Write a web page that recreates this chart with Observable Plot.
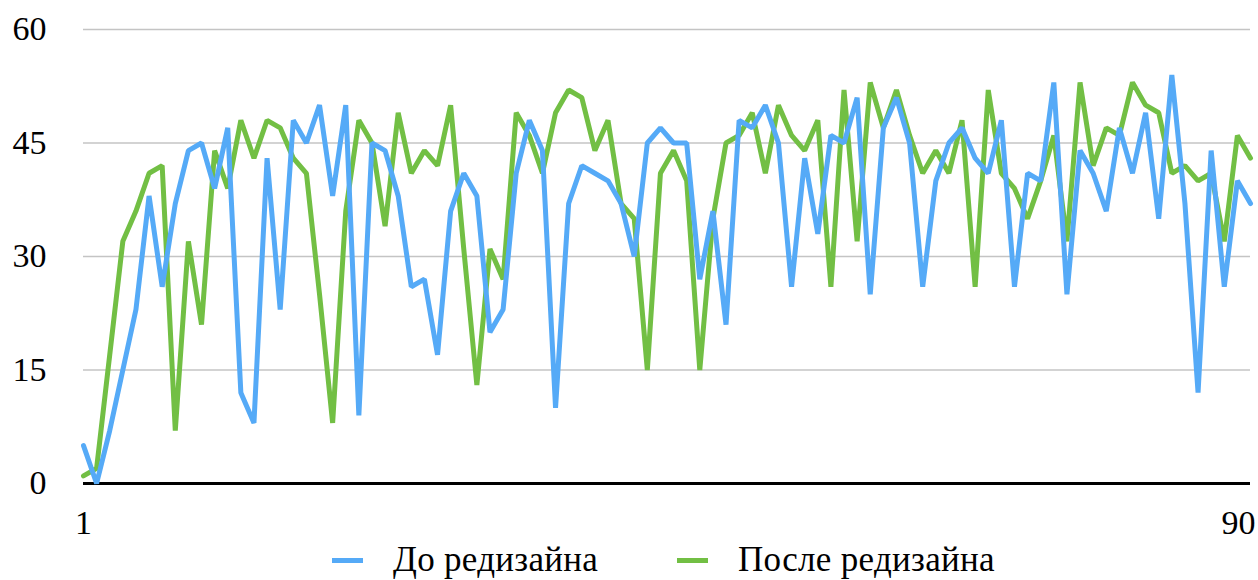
<!DOCTYPE html>
<html><head><meta charset="utf-8">
<script src="https://cdn.jsdelivr.net/npm/d3@7"></script>
<script src="https://cdn.jsdelivr.net/npm/@observablehq/plot@0.6"></script>
<style>
body{margin:0;background:#fff;font-family:"Liberation Serif","DejaVu Serif","Times New Roman",Times,serif;}
#wrap{position:relative;width:1258px;height:580px;overflow:hidden;}
#legend{position:absolute;left:0;top:540px;width:1258px;height:40px;font-size:35px;color:#000;font-family:"Liberation Serif","DejaVu Serif","Times New Roman",Times,serif;}
.item{position:absolute;top:0;height:40px;line-height:40px;display:flex;align-items:center;white-space:nowrap;}
.sw{display:inline-block;width:31px;height:5px;margin-right:30px;}
.tx{letter-spacing:0.3px;}
svg text{font-family:"Liberation Serif","DejaVu Serif","Times New Roman",Times,serif !important;}
</style></head>
<body><div id="wrap"><div id="chart"></div><div id="legend"></div></div>
<script>
const seriesNames = ["До редизайна", "После редизайна"];
const seriesColors = ["#55aaf7", "#72bf44"];
const xTicks = [1, 90];
const yTicks = [0, 15, 30, 45, 60];
const before = [5,0,7,15,23,38,26,37,44,45,39,47,12,8,43,23,48,45,50,38,
  50,9,45,44,38,26,27,17,36,41,38,20,23,41,48,44,10,37,42,41,
  40,37,30,45,47,45,45,27,36,21,48,47,50,45,26,43,33,46,45,51,
  25,47,51,45,26,40,45,47,43,41,48,26,41,40,53,25,44,41,36,47,
  41,49,35,54,37,12,44,26,40,37];
const after = [1,2,17,32,36,41,42,7,32,21,44,39,48,43,48,47,43,41,25,8,
  36,48,45,34,49,41,44,42,50,31,13,31,27,49,46,41,49,52,51,44,
  48,37,35,15,41,44,40,15,35,45,46,49,41,50,46,44,48,26,52,32,
  53,47,52,46,41,44,41,48,26,52,41,39,35,40,46,32,53,42,47,46,
  53,50,49,41,42,40,41,32,46,43];

const rows = [];
[before, after].forEach((arr, k) => {
  arr.forEach((v, i) => rows.push({x: i + 1, y: v, s: seriesNames[k]}));
});

const serif = "'Liberation Serif','DejaVu Serif','Times New Roman',Times,serif";
const chart = Plot.plot({
  width: 1258,
  height: 540,
  marginTop: 29,
  marginBottom: 57,
  marginLeft: 83,
  marginRight: 8,
  style: {fontFamily: serif, fontSize: "34px", color: "#000", background: "#fff"},
  x: {domain: [1, 90], label: null},
  y: {domain: [0, 60], label: null},
  marks: [
    Plot.ruleY([15, 30, 45, 60], {stroke: "#c4c4c4", strokeWidth: 1.3}),
    Plot.ruleY([0], {stroke: "#000", strokeWidth: 3}),
    Plot.line(rows.filter(d => d.s === seriesNames[1]), {x: "x", y: "y", stroke: seriesColors[1], strokeWidth: 5, strokeLinejoin: "miter"}),
    Plot.line(rows.filter(d => d.s === seriesNames[0]), {x: "x", y: "y", stroke: seriesColors[0], strokeWidth: 5, strokeLinejoin: "miter"}),
    Plot.axisY(yTicks, {tickSize: 0, tickPadding: 37, fontSize: 34, fontFamily: serif, label: null}),
    Plot.axisX([xTicks[0]], {tickSize: 0, tickPadding: 26, fontSize: 34, fontFamily: serif, label: null}),
    Plot.axisX([xTicks[1]], {tickSize: 0, tickPadding: 26, fontSize: 34, fontFamily: serif, textAnchor: "end", dx: 5, label: null})
  ]
});
document.getElementById("chart").appendChild(chart);

const legend = document.getElementById("legend");
const lefts = [332, 677];
seriesNames.forEach((n, i) => {
  const it = document.createElement("div");
  it.className = "item";
  it.style.left = lefts[i] + "px";
  const sw = document.createElement("span");
  sw.className = "sw";
  sw.style.background = seriesColors[i];
  const tx = document.createElement("span");
  tx.className = "tx";
  tx.textContent = n;
  it.appendChild(sw);
  it.appendChild(tx);
  legend.appendChild(it);
});
</script>
</body></html>
